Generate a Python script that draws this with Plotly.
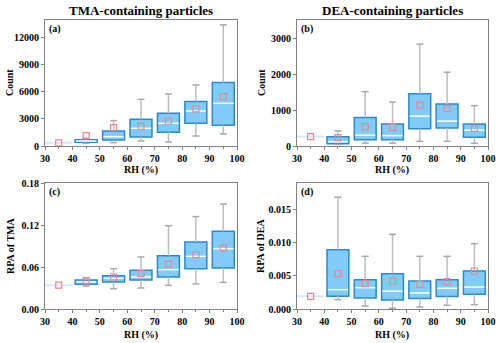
import plotly.graph_objects as go

# ---------------- data ----------------
rh = [35, 45, 55, 65, 75, 85, 95]

# (a) TMA-containing particles, Count
tma_cnt_lo   = [350, 290, 370, 550, 440, 1100, 1330]
tma_cnt_q1   = [350, 405, 660, 990, 1510, 2500, 2280]
tma_cnt_med  = [350, 550, 1030, 1950, 2500, 3860, 4710]
tma_cnt_q3   = [350, 700, 1660, 2940, 3600, 4900, 7000]
tma_cnt_hi   = [350, 850, 2800, 5150, 5740, 6730, 13360]
tma_cnt_mean = [350, 1150, 2020, 2170, 2760, 4090, 5450]

# (b) DEA-containing particles, Count
dea_cnt_lo   = [260, 40, 80, 80, 130, 130, 75]
dea_cnt_q1   = [260, 65, 176, 176, 480, 500, 240]
dea_cnt_med  = [260, 120, 300, 290, 830, 690, 440]
dea_cnt_q3   = [260, 260, 790, 610, 1450, 1170, 610]
dea_cnt_hi   = [260, 420, 1510, 1220, 2830, 2050, 1120]
dea_cnt_mean = [260, 230, 540, 520, 1135, 1045, 490]

# (c) RPA of TMA
tma_rpa_lo   = [0.034, 0.0329, 0.029, 0.030, 0.0338, 0.0357, 0.0381]
tma_rpa_q1   = [0.034, 0.0352, 0.0386, 0.0414, 0.0457, 0.0576, 0.0586]
tma_rpa_med  = [0.034, 0.0386, 0.0438, 0.0457, 0.0562, 0.0752, 0.0862]
tma_rpa_q3   = [0.034, 0.0414, 0.0476, 0.0552, 0.0762, 0.0957, 0.111]
tma_rpa_hi   = [0.034, 0.0448, 0.0576, 0.0743, 0.119, 0.132, 0.150]
tma_rpa_mean = [0.034, 0.0400, 0.0457, 0.0505, 0.0643, 0.0776, 0.0871]

# (d) RPA of DEA
dea_rpa_lo   = [0.0019, 0.0014, 0.00045, 0.0001, 0.0003, 0.00055, 0.00065]
dea_rpa_q1   = [0.0019, 0.0019, 0.00166, 0.00136, 0.00156, 0.00186, 0.0022]
dea_rpa_med  = [0.0019, 0.0029, 0.0032, 0.00267, 0.0024, 0.0031, 0.0033]
dea_rpa_q3   = [0.0019, 0.0089, 0.00438, 0.0053, 0.0042, 0.0044, 0.0057]
dea_rpa_hi   = [0.0019, 0.01676, 0.0079, 0.0112, 0.0079, 0.0079, 0.0098]
dea_rpa_mean = [0.0019, 0.0053, 0.0038, 0.0042, 0.0037, 0.0041, 0.0057]

titles = ["TMA-containing particles", "DEA-containing particles"]
ytitles = ["Count", "Count", "RPA of TMA", "RPA of DEA"]
panel_labels = ["(a)", "(b)", "(c)", "(d)"]
x_tickvals = [30, 40, 50, 60, 70, 80, 90, 100]
y_tickvals = [
    [0, 3000, 6000, 9000, 12000],
    [0, 1000, 2000, 3000],
    [0, 0.06, 0.12, 0.18],
    [0, 0.005, 0.010, 0.015],
]
y_tickformats = ["d", "d", ".2f", ".3f"]
y_ranges = [[0, 13900], [0, 3500], [0, 0.18], [0, 0.0189]]

# ---------------- style ----------------
FONT = "Liberation Serif"
FILL = "#80CBF8"
EDGE = "#2A8ACB"
WHISK = "#BDBDBD"
MEANC = "#E8878C"
FLAT = "#D4E8F6"
AXC = "#808080"
BOX_HALF = 4
FLAT_HALF = 5

fig = go.Figure()

datasets = [
    (tma_cnt_lo, tma_cnt_q1, tma_cnt_med, tma_cnt_q3, tma_cnt_hi, tma_cnt_mean),
    (dea_cnt_lo, dea_cnt_q1, dea_cnt_med, dea_cnt_q3, dea_cnt_hi, dea_cnt_mean),
    (tma_rpa_lo, tma_rpa_q1, tma_rpa_med, tma_rpa_q3, tma_rpa_hi, tma_rpa_mean),
    (dea_rpa_lo, dea_rpa_q1, dea_rpa_med, dea_rpa_q3, dea_rpa_hi, dea_rpa_mean),
]

for i, (lo, q1, med, q3, hi, mean) in enumerate(datasets):
    xa = "x" if i == 0 else f"x{i+1}"
    ya = "y" if i == 0 else f"y{i+1}"
    idx_box = [k for k in range(len(rh)) if q3[k] > q1[k]]
    idx_flat = [k for k in range(len(rh)) if q3[k] <= q1[k]]
    bx = [rh[k] for k in idx_box]

    # whiskers (lines outside the box)
    wx, wy = [], []
    for k in idx_box:
        wx += [rh[k], rh[k], None, rh[k], rh[k], None]
        wy += [q3[k], hi[k], None, q1[k], lo[k], None]
    fig.add_trace(go.Scatter(x=wx, y=wy, mode="lines", line=dict(color=WHISK, width=1.5),
                             xaxis=xa, yaxis=ya, hoverinfo="skip", showlegend=False))
    # caps
    fig.add_trace(go.Scatter(x=bx + bx, y=[hi[k] for k in idx_box] + [lo[k] for k in idx_box],
                             mode="markers",
                             marker=dict(symbol="line-ew-open", size=5, color="#A8A8A8",
                                         line=dict(color="#A8A8A8", width=1.5)),
                             xaxis=xa, yaxis=ya, hoverinfo="skip", showlegend=False))
    # boxes
    fig.add_trace(go.Bar(x=bx, y=[q3[k] - q1[k] for k in idx_box], base=[q1[k] for k in idx_box],
                         width=2 * BOX_HALF,
                         marker=dict(color=FILL, line=dict(color=EDGE, width=1.5)),
                         xaxis=xa, yaxis=ya, showlegend=False))
    # medians
    fig.add_trace(go.Scatter(x=bx, y=[med[k] for k in idx_box], mode="markers",
                             marker=dict(size=1, opacity=0),
                             error_x=dict(type="constant", value=BOX_HALF - 0.3, width=0,
                                          color="#FFFFFF", thickness=1.5),
                             xaxis=xa, yaxis=ya, hoverinfo="skip", showlegend=False))
    # flat (single-value) groups
    if idx_flat:
        fig.add_trace(go.Scatter(x=[rh[k] for k in idx_flat], y=[med[k] for k in idx_flat],
                                 mode="markers", marker=dict(size=1, opacity=0),
                                 error_x=dict(type="constant", value=FLAT_HALF, width=0,
                                              color=FLAT, thickness=2),
                                 xaxis=xa, yaxis=ya, hoverinfo="skip", showlegend=False))
    # means
    fig.add_trace(go.Scatter(x=rh, y=mean, mode="markers",
                             marker=dict(symbol="square-open", size=6, color=MEANC,
                                         line=dict(color=MEANC, width=1.2)),
                             xaxis=xa, yaxis=ya, showlegend=False))

# ---------------- layout ----------------
W, H = 500, 343
xdom = [[45 / W, 237 / W], [297 / W, 488 / W]]
ydom = [[1 - 146 / H, 1 - 20 / H], [1 - 309 / H, 1 - 183 / H]]

tickfont = dict(family=FONT, size=10, color="black", weight="bold")
layout = dict(width=W, height=H, margin=dict(l=0, r=0, t=0, b=0, autoexpand=False),
              plot_bgcolor="white", paper_bgcolor="white", barmode="overlay",
              showlegend=False)
for i in range(4):
    col, row = i % 2, i // 2
    xk = "xaxis" if i == 0 else f"xaxis{i+1}"
    yk = "yaxis" if i == 0 else f"yaxis{i+1}"
    ya = "y" if i == 0 else f"y{i+1}"
    xa = "x" if i == 0 else f"x{i+1}"
    layout[xk] = dict(domain=xdom[col], anchor=ya, range=[30, 100], tickvals=x_tickvals,
                      automargin=False,
                      ticks="outside", ticklen=3, tickcolor=AXC, showgrid=False, zeroline=False,
                      showline=True, mirror=True, linecolor=AXC, linewidth=1,
                      minor=dict(tickvals=[35, 45, 55, 65, 75, 85, 95], ticks="outside",
                                 ticklen=2, tickcolor=AXC),
                      tickfont=tickfont)
    layout[yk] = dict(domain=ydom[row], anchor=xa, range=y_ranges[i], tickvals=y_tickvals[i],
                      automargin=False,
                      tickformat=y_tickformats[i], ticks="outside", ticklen=3, tickcolor=AXC,
                      showgrid=False, zeroline=False, showline=True, mirror=True,
                      linecolor=AXC, linewidth=1, tickfont=tickfont)

fig.update_layout(**layout)

ann = []
title_font = dict(family=FONT, size=13, color="black", weight="bold")
lab_font = dict(family=FONT, size=10, color="black", weight="bold")
for col in range(2):
    ann.append(dict(text=titles[col], x=(xdom[col][0] + xdom[col][1]) / 2, y=1 - 10.5 / H,
                    xref="paper", yref="paper", showarrow=False, font=title_font,
                    xanchor="center", yanchor="middle"))
ytitle_x = [10, 262, 10, 260]
xtitle_y = [169.5, 169.5, 334.5, 334.5]
for i in range(4):
    col, row = i % 2, i // 2
    ann.append(dict(text="RH (%)", x=(xdom[col][0] + xdom[col][1]) / 2, y=1 - xtitle_y[i] / H,
                    xref="paper", yref="paper", showarrow=False, font=lab_font,
                    xanchor="center", yanchor="middle"))
    ann.append(dict(text=ytitles[i], x=ytitle_x[i] / W, y=(ydom[row][0] + ydom[row][1]) / 2,
                    xref="paper", yref="paper", showarrow=False, font=lab_font, textangle=-90,
                    xanchor="center", yanchor="middle"))
    xd = "x domain" if i == 0 else f"x{i+1} domain"
    yd = "y domain" if i == 0 else f"y{i+1} domain"
    ann.append(dict(text=panel_labels[i], x=0.01, y=0.99, xref=xd, yref=yd, showarrow=False,
                    font=lab_font, xanchor="left", yanchor="top"))
fig.update_layout(annotations=ann)

fig.write_html("out.html", config={"displayModeBar": False},
               post_script="document.body.style.margin='0';document.body.style.overflow='hidden';")
